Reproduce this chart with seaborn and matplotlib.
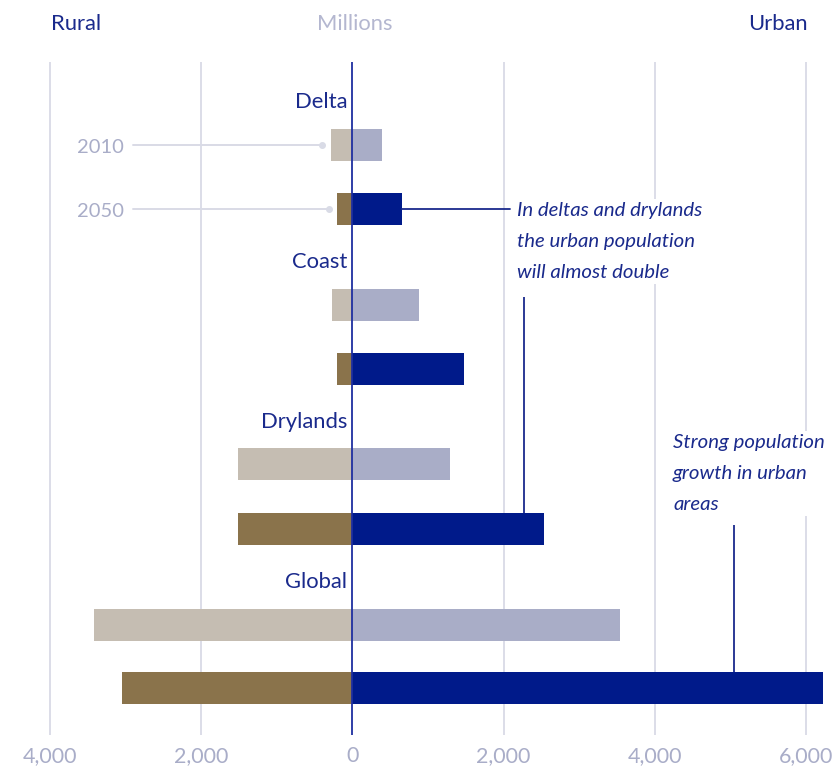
import matplotlib
matplotlib.use("Agg")
import matplotlib.pyplot as plt
import seaborn as sns
import pandas as pd

# ---- data (millions) ----
regions = ["Delta", "Coast", "Drylands", "Global"]
rural_2010 = [280, 265, 1520, 3420]
rural_2050 = [210, 200, 1520, 3050]
urban_2010 = [385, 875, 1285, 3535]
urban_2050 = [660, 1470, 2530, 6225]
years = ["2010", "2050"]
tick_values = [-4000, -2000, 0, 2000, 4000, 6000]
tick_labels = ["4,000", "2,000", "0", "2,000", "4,000", "6,000"]

# ---- styling ----
C_RURAL_10 = "#C5BDB2"
C_RURAL_50 = "#8A734B"
C_URBAN_10 = "#A9ADC7"
C_URBAN_50 = "#001A8A"
C_DARK = "#1A2A8C"
C_LIGHT = "#A9ADC8"
C_GRID = "#DCDDE8"

sns.set_theme(style="white")
plt.rcParams["font.family"] = ["Lato", "DejaVu Sans"]

W, H = 833, 771
fig = plt.figure(figsize=(W / 100, H / 100), dpi=100)
ax = fig.add_axes([0, 36 / H, 1, 735 / H])

GROUP_STEP = 2.5
rows = []
for g, name in enumerate(regions):
    p10 = g * GROUP_STEP
    p50 = p10 + 1
    rows.append(dict(pos=p10, value=-rural_2010[g], series="r10"))
    rows.append(dict(pos=p50, value=-rural_2050[g], series="r50"))
    rows.append(dict(pos=p10, value=urban_2010[g], series="u10"))
    rows.append(dict(pos=p50, value=urban_2050[g], series="u50"))
df = pd.DataFrame(rows)

sns.barplot(data=df, x="value", y="pos", hue="series",
            hue_order=["r10", "r50", "u10", "u50"],
            palette=[C_RURAL_10, C_RURAL_50, C_URBAN_10, C_URBAN_50],
            orient="h", native_scale=True, dodge=False, width=0.5,
            saturation=1, linewidth=0, legend=False, ax=ax, zorder=3)

# pixel mapping: y_px = 144.5 + 64 * pos
def p_of(px):
    return (px - 144.5) / 64.0

ax.set_xlim(-4661, 6355)
ax.set_ylim(p_of(735), p_of(0))
for s in ax.spines.values():
    s.set_visible(False)

# gridlines
for v in tick_values:
    if v == 0:
        continue
    ax.vlines(v, p_of(62), p_of(735), color=C_GRID, lw=1.4, zorder=1)
ax.vlines(0, p_of(62), p_of(735), color="#1F2FA0", lw=1.3, zorder=6)

ax.set_xticks(tick_values)
ax.set_xticklabels(tick_labels)
ax.tick_params(axis="x", length=0, pad=8, labelsize=15.5, labelcolor=C_LIGHT)
ax.set_yticks([])
ax.set_xlabel("")
ax.set_ylabel("")

# region labels
for g, name in enumerate(regions):
    ax.text(-70, g * GROUP_STEP - 0.66, name, ha="right", va="center",
            fontsize=15.8, color=C_DARK, zorder=7)

# year guides (first group)
for i, yr in enumerate(years):
    ax.text(-3020, i + 0.05, yr, ha="right", va="center", fontsize=14.5, color=C_LIGHT)
    ax.plot([-2900, -400 + 90 * i], [i, i], color="#D9DBE6", lw=1.4, zorder=2)
    ax.plot([-400 + 90 * i], [i], marker="o", ms=4, color="#D9DBE6", zorder=2)

# annotation leaders
ax.plot([urban_2050[0], 2085], [1, 1], color=C_DARK, lw=1.3, zorder=4)
ax.vlines(2270, p_of(297), GROUP_STEP * 2 + 1 - 0.25, color=C_DARK, lw=1.3, zorder=4)
ax.vlines(5048, p_of(525), GROUP_STEP * 3 + 1 - 0.25, color=C_DARK, lw=1.3, zorder=4)

ax.text(2180, p_of(202), "In deltas and drylands\nthe urban population\nwill almost double",
        ha="left", va="top", fontsize=14.7, style="italic", color=C_DARK,
        linespacing=2.0, zorder=5,
        bbox=dict(facecolor="white", edgecolor="none", pad=2))
ax.text(4240, p_of(434), "Strong population\ngrowth in urban\nareas",
        ha="left", va="top", fontsize=14.7, style="italic", color=C_DARK,
        linespacing=2.0, zorder=5,
        bbox=dict(facecolor="white", edgecolor="none", pad=2))

# headers
fig.text(51 / W, 1 - 24 / H, "Rural", ha="left", va="center", fontsize=15.8, color=C_DARK)
fig.text(355 / W, 1 - 24 / H, "Millions", ha="center", va="center", fontsize=15.8, color="#B4B7D0")
fig.text(808 / W, 1 - 24 / H, "Urban", ha="right", va="center", fontsize=15.8, color=C_DARK)

fig.savefig("out.png", dpi=100)
